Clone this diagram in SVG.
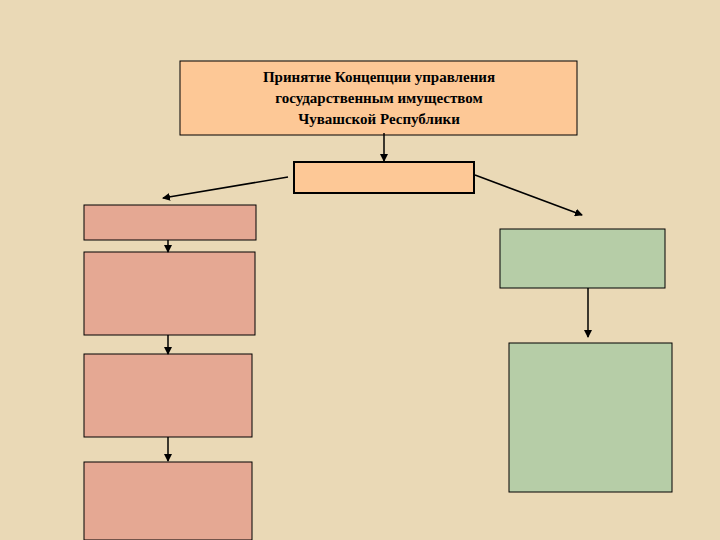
<svg xmlns="http://www.w3.org/2000/svg" width="720" height="540" viewBox="0 0 720 540">
<defs>
<marker id="a" markerWidth="8" markerHeight="8" refX="7" refY="4" orient="auto" markerUnits="userSpaceOnUse"><path d="M0,0 L8,4 L0,8 z" fill="#000"/></marker>
<style>
.o{fill:#fdc896;stroke:#000;stroke-width:1}
.o2{fill:#fdc896;stroke:#000;stroke-width:2}
.p{fill:#e5a893;stroke:#000;stroke-width:1}
.g{fill:#b6cda7;stroke:#000;stroke-width:1}
.c{stroke:#000;stroke-width:1.5;fill:none;marker-end:url(#a)}
text{font-family:"Liberation Serif",serif;font-weight:bold;font-size:15px;text-anchor:middle;fill:#000}
</style>
</defs>
<rect width="720" height="540" fill="#ead9b6"/>
<g id="n1"><rect class="o" x="180" y="61" width="397" height="74"/>
<text x="379" y="82">Принятие Концепции управления</text>
<text x="379" y="103">государственным имуществом</text>
<text x="379" y="124">Чувашской Республики</text></g>
<g id="n2"><rect class="o2" x="294" y="162" width="180" height="31"/></g>
<g id="p1"><rect class="p" x="84" y="205" width="172" height="35"/></g>
<g id="p2"><rect class="p" x="84" y="252" width="171" height="83"/></g>
<g id="p3"><rect class="p" x="84" y="354" width="168" height="83"/></g>
<g id="p4"><rect class="p" x="84" y="462" width="168" height="78"/></g>
<g id="g1"><rect class="g" x="500" y="229" width="165" height="59"/></g>
<g id="g2"><rect class="g" x="509" y="343" width="163" height="149"/></g>
<g id="connectors">
<line class="c" x1="384" y1="133" x2="384" y2="161"/>
<line class="c" x1="288" y1="177" x2="163" y2="198"/>
<line class="c" x1="475" y1="175" x2="582" y2="215"/>
<line class="c" x1="168" y1="240" x2="168" y2="252"/>
<line class="c" x1="168" y1="335" x2="168" y2="354"/>
<line class="c" x1="168" y1="437" x2="168" y2="461"/>
<line class="c" x1="588" y1="288" x2="588" y2="337"/>
</g>
</svg>
